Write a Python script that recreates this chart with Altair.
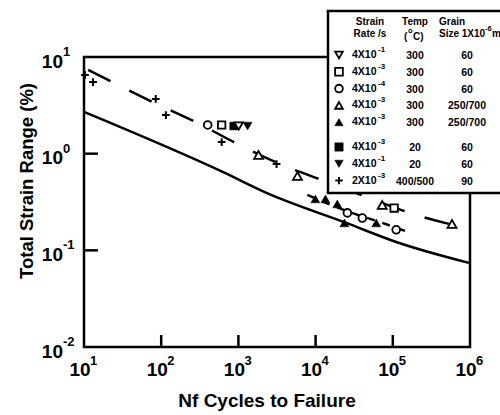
import altair as alt
import pandas as pd

# ---------------- data ----------------
plus_n = [10.3, 13.1, 85, 115, 607, 3120]
plus_s = [6.52, 5.51, 3.68, 2.51, 1.32, 0.78]
circ_n = [400, 25800, 40300, 110700]
circ_s = [1.98, 0.244, 0.216, 0.163]
sq_n = [607, 104000]
sq_s = [1.98, 0.274]
fsq_n = [867]
fsq_s = [1.93]
tdo_n = [1007]
tdo_s = [1.93]
tdf_n = [1316]
tdf_s = [1.93]
tuo_n = [1824, 5820, 72900, 585000]
tuo_s = [0.97, 0.587, 0.295, 0.1875]
tuf_n = [9930, 13400, 19100, 23600, 61100]
tuf_s = [0.340, 0.340, 0.302, 0.192, 0.192]

solid_n = [10, 625, 2310, 25000, 110700, 970000]
solid_s = [2.70, 0.647, 0.393, 0.192, 0.122, 0.0741]
upper_n = [11.3, 82.6, 297, 1100, 3950, 14200, 57500, 219000, 887000]
upper_s = [7.35, 3.34, 2.07, 1.20, 0.746, 0.509, 0.332, 0.227, 0.171]
lower_n = [7830, 27400, 66700, 173000]
lower_s = [0.374, 0.249, 0.197, 0.151]

x_ticks = [10, 100, 1000, 10000, 100000, 1000000]
x_exp = ["1", "2", "3", "4", "5", "6"]
y_ticks = [10, 1, 0.1, 0.01]
y_exp = ["1", "0", "-1", "-2"]

leg_shape = ["triangle-down", "square", "circle", "triangle-up", "triangle-up",
             "square", "triangle-down", "plus"]
leg_filled = [False, False, False, False, True, True, True, False]
leg_base = ["4X10", "4X10", "4X10", "4X10", "4X10", "4X10", "4X10", "2X10"]
leg_exp = ["-1", "-3", "-4", "-3", "-3", "-3", "-1", "-3"]
leg_temp = ["300", "300", "300", "300", "300", "20", "20", "400/500"]
leg_grain = ["60", "60", "60", "250/700", "250/700", "60", "60", "90"]

FONT = "Liberation Sans"
W, H = 386, 290
PLUS = "M-1,0L1,0M0,-1L0,1"

xs = alt.Scale(type="log", domain=[10, 1000000])
ys = alt.Scale(type="log", domain=[0.01, 10])


def pts(n, s, shape, filled, size=70):
    df = pd.DataFrame({"n": n, "s": s})
    if shape == "plus":
        m = alt.Chart(df).mark_point(shape=PLUS, size=60, filled=False,
                                     stroke="black", strokeWidth=2, opacity=1)
    elif filled:
        m = alt.Chart(df).mark_point(shape=shape, size=size, filled=True,
                                     fill="black", stroke="black", strokeWidth=0.5, opacity=1)
    else:
        m = alt.Chart(df).mark_point(shape=shape, size=size, filled=False,
                                     fill="white", stroke="black", strokeWidth=1.8, opacity=1)
    return m.encode(x=alt.X("n:Q", scale=xs, axis=None),
                    y=alt.Y("s:Q", scale=ys, axis=None))


def line(n, s, dash=None, sw=2.5):
    df = pd.DataFrame({"n": n, "s": s})
    kw = dict(color="black", strokeWidth=sw, interpolate="monotone")
    if dash:
        kw["strokeDash"] = dash
    return alt.Chart(df).mark_line(**kw).encode(
        x=alt.X("n:Q", scale=xs, axis=None),
        y=alt.Y("s:Q", scale=ys, axis=None))


layers = []
layers.append(line(solid_n, solid_s))
layers.append(line(upper_n, upper_s, [25, 21]))
layers.append(line(lower_n, lower_s, [8, 8]))

layers.append(pts(plus_n, plus_s, "plus", False))
layers.append(pts(circ_n, circ_s, "circle", False, 60))
layers.append(pts(sq_n, sq_s, "square", False, 55))
layers.append(pts(fsq_n, fsq_s, "square", True, 60))
layers.append(pts(tdo_n, tdo_s, "triangle-down", False, 75))
layers.append(pts(tdf_n, tdf_s, "triangle-down", True, 80))
layers.append(pts(tuo_n, tuo_s, "triangle-up", False, 80))
layers.append(pts(tuf_n, tuf_s, "triangle-up", True, 80))

# inward ticks
xt = pd.DataFrame({"v": x_ticks[1:-1]})
layers.append(alt.Chart(xt).mark_rule(color="black", strokeWidth=2.5).encode(
    x=alt.X("v:Q", scale=xs, axis=None), y=alt.value(H), y2=alt.value(H - 12)))
yt = pd.DataFrame({"v": y_ticks[1:-1]})
layers.append(alt.Chart(yt).mark_rule(color="black", strokeWidth=2.5).encode(
    y=alt.Y("v:Q", scale=ys, axis=None), x=alt.value(0), x2=alt.value(14)))

# tick labels
xl = pd.DataFrame({"v": x_ticks, "e": x_exp, "b": ["10"] * len(x_ticks)})
layers.append(alt.Chart(xl).mark_text(font=FONT, fontWeight="bold", fontSize=19,
                                      align="center", baseline="middle", dx=-4).encode(
    x=alt.X("v:Q", scale=xs, axis=None), y=alt.value(H + 23), text="b:N"))
layers.append(alt.Chart(xl).mark_text(font=FONT, fontWeight="bold", fontSize=13,
                                      align="left", baseline="middle", dx=6).encode(
    x=alt.X("v:Q", scale=xs, axis=None), y=alt.value(H + 14), text="e:N"))
yl = pd.DataFrame({"v": y_ticks, "e": y_exp, "b": ["10"] * len(y_ticks)})
layers.append(alt.Chart(yl).mark_text(font=FONT, fontWeight="bold", fontSize=19,
                                      align="right", baseline="middle", dy=4.5).encode(
    y=alt.Y("v:Q", scale=ys, axis=None), x=alt.value(-21), text="b:N"))
layers.append(alt.Chart(yl).mark_text(font=FONT, fontWeight="bold", fontSize=13,
                                      align="left", baseline="middle", dy=-5).encode(
    y=alt.Y("v:Q", scale=ys, axis=None), x=alt.value(-21), text="e:N"))

# axis titles
layers.append(alt.Chart(pd.DataFrame({"t": ["Nf Cycles to Failure"]})).mark_text(
    font=FONT, fontWeight="bold", fontSize=19, align="center", baseline="middle").encode(
    x=alt.value(183), y=alt.value(H + 54), text="t:N"))
layers.append(alt.Chart(pd.DataFrame({"t": ["Total Strain Range (%)"]})).mark_text(
    font=FONT, fontWeight="bold", fontSize=18.5, align="center", baseline="middle", angle=270).encode(
    x=alt.value(-57), y=alt.value(124), text="t:N"))

# legend box (white panel, border on the three visible sides)
LX, LY, LB, LR = 244, -46, 136, 460
layers.append(alt.Chart(pd.DataFrame({"a": [0]})).mark_rect(
    fill="white", strokeWidth=0).encode(
    x=alt.value(LX), x2=alt.value(LR), y=alt.value(LY), y2=alt.value(LB)))
layers.append(alt.Chart(pd.DataFrame({"a": [0]})).mark_rule(
    color="black", strokeWidth=2.5).encode(
    x=alt.value(LX - 1.25), x2=alt.value(LR), y=alt.value(LY)))
layers.append(alt.Chart(pd.DataFrame({"a": [0]})).mark_rule(
    color="black", strokeWidth=2.5).encode(
    x=alt.value(LX - 1.25), x2=alt.value(LR), y=alt.value(LB)))
layers.append(alt.Chart(pd.DataFrame({"a": [0]})).mark_rule(
    color="black", strokeWidth=2.5).encode(
    x=alt.value(LX), y=alt.value(LY), y2=alt.value(LB)))

hdr = pd.DataFrame({
    "t": ["Strain", "Rate /s", "Temp", "(", "C)", "Grain", "Size 1X10", "m"],
    "px": [286, 286, 331, 320, 329, 355, 355, 408],
    "py": [-35, -23, -35, -20, -20, -35, -23, -23],
    "al": ["center", "center", "center", "left", "left", "left", "left", "left"],
})
for al in ["center", "left"]:
    layers.append(alt.Chart(hdr[hdr.al == al]).mark_text(
        font=FONT, fontWeight="bold", fontSize=10, align=al, baseline="middle").encode(
        x=alt.X("px:Q", scale=None), y=alt.Y("py:Q", scale=None), text="t:N"))
hsup = pd.DataFrame({"t": ["o", "-6"], "px": [324, 401], "py": [-26, -28]})
layers.append(alt.Chart(hsup).mark_text(
    font=FONT, fontWeight="bold", fontSize=7.5, align="left", baseline="middle").encode(
    x=alt.X("px:Q", scale=None), y=alt.Y("py:Q", scale=None), text="t:N"))

row_y = []
for i in range(len(leg_base)):
    row_y.append(-2 + i * 16.8 + (8 if i >= 5 else 0))
leg = pd.DataFrame({"py": row_y, "base": leg_base, "exp": leg_exp,
                    "temp": leg_temp, "grain": leg_grain})
layers.append(alt.Chart(leg).mark_text(font=FONT, fontWeight="bold", fontSize=10.5,
                                       align="left", baseline="middle").encode(
    x=alt.value(268), y=alt.Y("py:Q", scale=None), text="base:N"))
layers.append(alt.Chart(leg).mark_text(font=FONT, fontWeight="bold", fontSize=8,
                                       align="left", baseline="middle", dy=-5).encode(
    x=alt.value(294), y=alt.Y("py:Q", scale=None), text="exp:N"))
layers.append(alt.Chart(leg).mark_text(font=FONT, fontWeight="bold", fontSize=10.5,
                                       align="center", baseline="middle", dy=1).encode(
    x=alt.value(331), y=alt.Y("py:Q", scale=None), text="temp:N"))
layers.append(alt.Chart(leg).mark_text(font=FONT, fontWeight="bold", fontSize=10.5,
                                       align="center", baseline="middle", dy=1).encode(
    x=alt.value(383), y=alt.Y("py:Q", scale=None), text="grain:N"))

for i in range(len(leg_shape)):
    d = pd.DataFrame({"py": [row_y[i]]})
    shp = leg_shape[i]
    if shp == "plus":
        m = alt.Chart(d).mark_point(shape=PLUS, size=55, filled=False, stroke="black",
                                    strokeWidth=2, opacity=1)
    elif leg_filled[i]:
        m = alt.Chart(d).mark_point(shape=shp, size=70, filled=True, fill="black",
                                    stroke="black", strokeWidth=0.5, opacity=1)
    else:
        m = alt.Chart(d).mark_point(shape=shp, size=60, filled=False, fill="white",
                                    stroke="black", strokeWidth=1.8, opacity=1)
    layers.append(m.encode(x=alt.value(255), y=alt.Y("py:Q", scale=None)))

chart = alt.layer(*layers).properties(
    width=W, height=H,
    autosize=alt.AutoSizeParams(type="none"),
    padding={"left": 84, "top": 57, "right": 30, "bottom": 64},
    background="white",
).configure_view(stroke="black", strokeWidth=2.5)

chart.save("out.html", embed_options={"renderer": "svg", "actions": False})
